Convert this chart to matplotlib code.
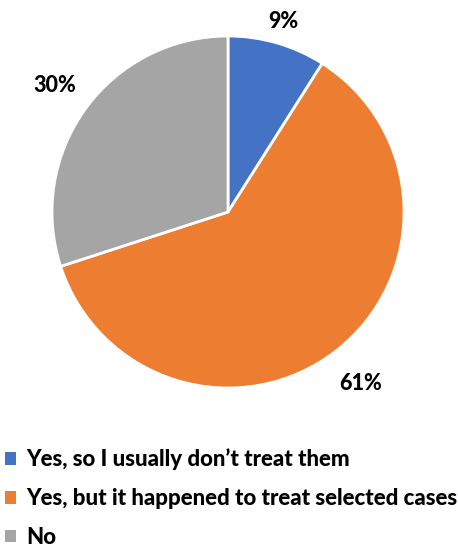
import numpy as np
import matplotlib.pyplot as plt
from matplotlib.patches import Patch

labels = ["Yes, so I usually don\u2019t treat them",
          "Yes, but it happened to treat selected cases",
          "No"]
shares = [9, 61, 30]
colors = ["#4472C4", "#ED7D31", "#A5A5A5"]

plt.rcParams['font.family'] = ['Lato', 'DejaVu Sans']

fig = plt.figure(figsize=(4.58, 5.5), dpi=100)
W, H = 458, 550
cx, cy, r = 228, 212, 176
ax = fig.add_axes([(cx - r) / W, 1 - (cy + r) / H, 2 * r / W, 2 * r / H])

wedges, _ = ax.pie(shares, colors=colors, startangle=90, counterclock=False,
                   wedgeprops=dict(edgecolor='white', linewidth=2))
ax.set_aspect('equal')
ax.set_xlim(-1, 1)
ax.set_ylim(-1, 1)

# percentage labels outside the slices
label_dist = [1.13, 1.23, 1.22]
for w, s, d in zip(wedges, shares, label_dist):
    ang = np.deg2rad((w.theta1 + w.theta2) / 2)
    ax.text(d * np.cos(ang), d * np.sin(ang), f"{s}%", ha='center', va='center',
            fontsize=15.5, fontweight=900, clip_on=False)

handles = [Patch(facecolor=c, edgecolor='none') for c in colors]
fig.legend(handles, labels, loc='lower left', bbox_to_anchor=(5 / W, 2 / H),
           frameon=False, prop=dict(size=16, weight=900),
           handlelength=0.5, handleheight=0.5, handletextpad=0.45,
           labelspacing=0.8, borderpad=0, borderaxespad=0)

fig.savefig("out.png", dpi=100)
